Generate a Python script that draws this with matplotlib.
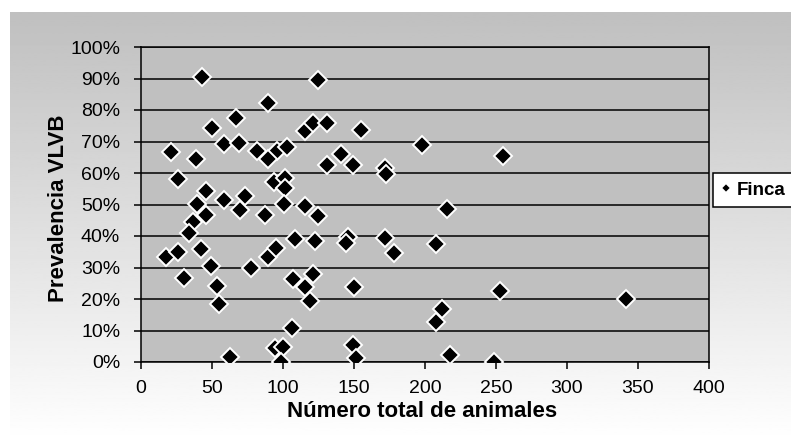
import numpy as np
import matplotlib
matplotlib.use("Agg")
import matplotlib.pyplot as plt
from matplotlib.ticker import PercentFormatter

# Number of animals per farm and VLVB prevalence (%)
total_animales = [
    17.5, 25.8, 30.0, 43.2, 21.1, 25.8, 38.7, 50.0, 66.7, 89.7,
    58.5, 69.0, 81.5, 95.6, 89.7, 103.0, 45.5, 39.5, 58.6, 73.5,
    93.8, 101.7, 101.4, 100.8, 45.5, 36.8, 33.8, 69.7, 87.3, 42.3,
    49.1, 53.7, 55.1, 77.2, 89.2, 95.3, 62.7, 94.6, 100.2, 98.4,
    108.5, 122.5, 146.0, 144.6, 171.5, 178.0, 107.3, 121.4, 115.5, 119.0,
    150.2, 106.1, 149.5, 151.4, 124.9, 115.5, 121.4, 130.8, 154.9, 140.8,
    130.8, 149.3, 171.5, 172.7, 115.5, 124.6, 197.7, 255.2, 215.7, 207.5,
    252.8, 341.6, 212.2, 207.5, 217.6, 248.6,
]
prevalencia = [
    33.3, 34.9, 26.8, 90.4, 66.8, 58.0, 64.3, 74.2, 77.4, 82.1,
    69.1, 69.4, 67.0, 67.0, 64.4, 68.2, 54.4, 50.3, 51.5, 52.8,
    57.1, 58.5, 55.3, 50.3, 46.8, 44.3, 40.8, 48.3, 46.8, 35.8,
    30.6, 24.2, 18.3, 29.9, 33.2, 36.1, 1.7, 4.3, 4.9, 0.0,
    39.0, 38.5, 39.6, 37.8, 39.4, 34.7, 26.3, 27.9, 23.7, 19.5,
    23.7, 10.7, 5.4, 1.2, 89.5, 73.2, 75.8, 75.8, 73.7, 65.9,
    62.5, 62.5, 61.6, 59.8, 49.6, 46.5, 68.9, 65.4, 48.5, 37.5,
    22.6, 20.0, 16.8, 12.6, 2.2, 0.1,
]
serie = "Finca"

plt.rcParams['font.family'] = ['Liberation Sans', 'DejaVu Sans']

W, H = 791, 441
fig = plt.figure(figsize=(W / 100, H / 100), dpi=100)
fig.patch.set_facecolor("white")

# chart area with vertical grey-to-white gradient
bg = fig.add_axes([10 / W, 0, 1 - 10 / W, 1 - 12 / H], zorder=0)
grad = np.linspace(0.75, 1.0, 256).reshape(-1, 1)
bg.imshow(grad, cmap="gray", vmin=0, vmax=1, aspect="auto", extent=[0, 1, 0, 1])
bg.set_axis_off()

ax = fig.add_axes([141 / W, 1 - 362 / H, 568 / W, 315 / H], zorder=1)
ax.set_facecolor("#c0c0c0")

ax.plot(total_animales, prevalencia, linestyle="none", marker="D",
        markersize=9, markerfacecolor="black", markeredgecolor="white",
        markeredgewidth=1.4, label=serie, zorder=3)

ax.set_xlim(0, 400)
ax.set_ylim(0, 100)
ax.set_xticks(np.arange(0, 401, 50))
ax.set_yticks(np.arange(0, 101, 10))
ax.yaxis.set_major_formatter(PercentFormatter(decimals=0))
ax.grid(axis="y", color="black", linewidth=1.1, zorder=1)
ax.set_axisbelow(True)

for s in ax.spines.values():
    s.set_color("black")
    s.set_linewidth(1.1)

ax.tick_params(axis="both", direction="out", length=5, width=1.1,
               colors="black", labelsize=14)
ax.tick_params(axis="y", pad=10)
ax.tick_params(axis="x", pad=8)

ax.set_xlabel("Número total de animales", fontsize=16, fontweight="bold")
ax.xaxis.label.set_va("center")
ax.xaxis.set_label_coords(0.495, -0.157)
ax.set_ylabel("Prevalencia VLVB", fontsize=16, fontweight="bold")
ax.yaxis.label.set_va("center")
ax.yaxis.set_label_coords(-0.146, 0.489)

leg = ax.legend(loc="center left", bbox_to_anchor=(713 / W, 1 - 190 / H),
                bbox_transform=fig.transFigure, frameon=True, fancybox=False,
                borderaxespad=0, markerscale=0.55, handlelength=0.5,
                handletextpad=0.3, borderpad=0.45,
                prop={"size": 13.5, "weight": "bold"})
leg.get_frame().set_edgecolor("black")
leg.get_frame().set_linewidth(1.1)
leg.get_frame().set_facecolor("white")
leg.get_frame().set_alpha(1)

fig.savefig("out.png", dpi=100)
